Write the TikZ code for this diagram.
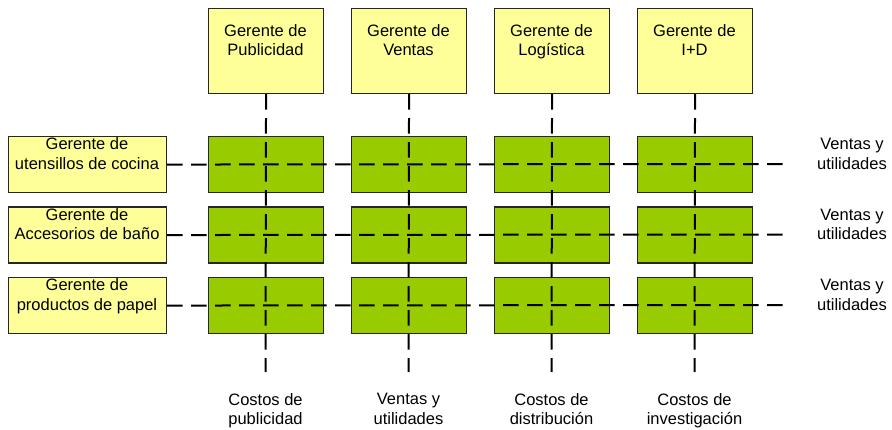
\documentclass[tikz,border=0pt]{standalone}
\usepackage{fontspec}
\setmainfont{Liberation Sans}
\definecolor{myyellow}{HTML}{FFFF99}
\definecolor{mygreen}{HTML}{99CC00}
\begin{document}
\begin{tikzpicture}[x=1pt,y=-1pt,
  mgr/.style={draw=black!85, line width=1.1pt, fill=myyellow, inner sep=0pt, anchor=north west},
  cell/.style={draw=black!85, line width=1.1pt, fill=mygreen, inner sep=0pt, anchor=north west,
               minimum width=115pt, minimum height=56pt},
  txt/.style={font=\fontsize{16.5}{19.5}\selectfont, align=center, inner sep=0pt, anchor=north},
  dline/.style={line width=2pt, dash pattern=on 15.5pt off 8.5pt}]
\useasboundingbox (0,0) rectangle (892,430);
% top managers
\foreach \i/\x/\t in {1/208/Publicidad,2/351/Ventas,3/494/Logística,4/637/I+D}{
  \node[mgr, minimum width=115pt, minimum height=85pt] (T\i) at (\x,8) {};
  \node[txt] (TT\i) at (\x+57.5,24) {Gerente de\\\t};
}
% left managers
\foreach \j/\y/\t in {1/136/utensillos de cocina,2/206.5/Accesorios de baño,3/277/productos de papel}{
  \node[mgr, minimum width=158pt, minimum height=56pt] (L\j) at (8,\y) {};
  \node[txt] (LT\j) at (87,\y+1.5) {Gerente de\\\t};
}
% green cells
\foreach \i/\x in {1/208,2/351,3/494,4/637}{
  \foreach \j/\y in {1/136,2/206.5,3/277}{
    \node[cell] (C\i\j) at (\x,\y) {};
  }
}
% end coordinates
\foreach \j/\y in {1/164,2/234.5,3/305}{
  \coordinate (R\j) at (785,\y);
  \node[txt] (RT\j) at (852,\y-26) {Ventas y\\utilidades};
}
\foreach \i/\x in {1/265.5,2/408.5,3/551.5,4/694.5}{
  \coordinate (B\i) at (\x,372);
}
% dashed lines
\foreach \j in {1,2,3}{ \draw[dline] (L\j.east) -- (R\j); }
\foreach \i in {1,2,3,4}{ \draw[dline] (T\i.south) -- (B\i); }
% bottom labels
\node[txt] (BT1) at (265.5,393) {Costos de\\publicidad};
\node[txt] (BT2) at (408.5,393) {Ventas y\\utilidades};
\node[txt] (BT3) at (551.5,393) {Costos de\\distribución};
\node[txt] (BT4) at (694.5,393) {Costos de\\investigación};
\end{tikzpicture}
\end{document}
